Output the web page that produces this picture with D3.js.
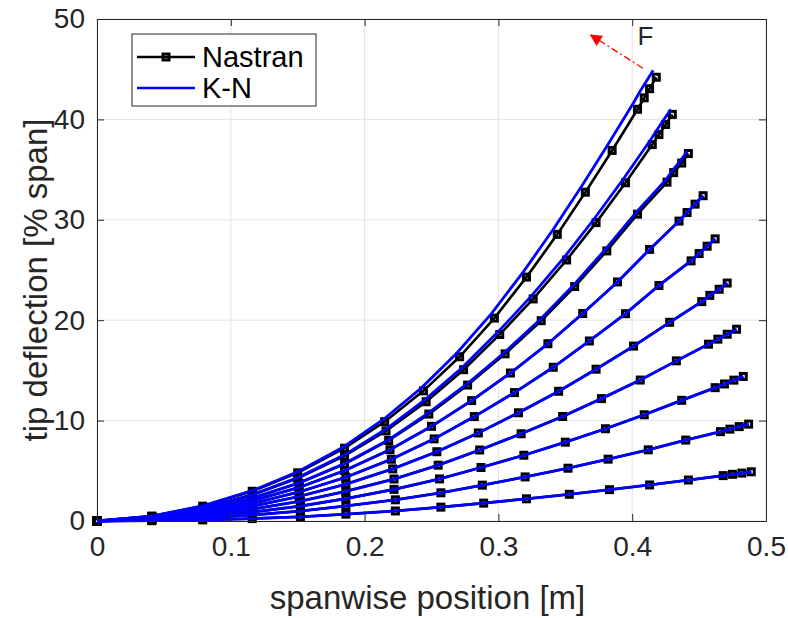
<!DOCTYPE html>
<html>
<head>
<meta charset="utf-8">
<script src="https://cdn.jsdelivr.net/npm/d3@7"></script>
<style>
  body { margin: 0; background: #fff; }
  svg { display: block; font-family: "Liberation Sans", Arial, sans-serif; }
  .grid line { stroke: #e3e3e3; stroke-width: 1; }
  .axis path, .axis line { stroke: #262626; stroke-width: 1; }
  .axis text { fill: #262626; font-size: 28px; }
</style>
</head>
<body>
<svg width="788" height="618"></svg>
<script>
// node x positions [m], one array per load step (smallest load first)
var nasX1 = [0, .041, .079, .116, .152, .186, .223, .257, .289, .321, .353, .383, .413, .442, .468, .475, .482, .489];
var nasX2 = [0, .041, .079, .116, .152, .186, .223, .257, .288, .320, .352, .382, .412, .440, .466, .473, .480, .487];
var nasX3 = [0, .041, .079, .116, .152, .186, .222, .256, .287, .319, .350, .380, .409, .437, .462, .469, .476, .483];
var nasX4 = [0, .041, .079, .116, .152, .186, .222, .255, .286, .317, .348, .377, .406, .433, .457, .464, .471, .478];
var nasX5 = [0, .041, .079, .116, .151, .186, .221, .254, .285, .315, .345, .373, .401, .428, .452, .458, .465, .471];
var nasX6 = [0, .041, .079, .116, .151, .186, .220, .252, .282, .312, .341, .368, .395, .420, .444, .450, .456, .462];
var nasX7 = [0, .041, .079, .116, .151, .185, .219, .250, .280, .309, .337, .363, .389, .413, .435, .441, .447, .453];
var nasX8 = [0, .041, .079, .116, .151, .185, .218, .248, .277, .305, .332, .357, .381, .404, .426, .431, .437, .442];
var nasX9 = [0, .041, .079, .116, .150, .185, .216, .246, .274, .301, .326, .351, .373, .395, .415, .420, .425, .430];
var nasX10 = [0, .041, .079, .116, .150, .185, .215, .244, .271, .297, .321, .344, .365, .385, .404, .409, .413, .418];

// Nastran tip deflection along the span [% span]
var nasY1 = [0, .03, .11, .24, .42, .68, 1.0, 1.38, 1.78, 2.21, 2.66, 3.12, 3.59, 4.08, 4.52, 4.65, 4.77, 4.9];
var nasY2 = [0, .10, .29, .60, .99, 1.50, 2.11, 2.81, 3.57, 4.39, 5.26, 6.16, 7.09, 8.06, 8.90, 9.15, 9.40, 9.65];
var nasY3 = [0, .14, .43, .89, 1.48, 2.23, 3.15, 4.19, 5.33, 6.55, 7.85, 9.19, 10.58, 12.02, 13.28, 13.65, 14.03, 14.4];
var nasY4 = [0, .19, .57, 1.18, 1.97, 2.96, 4.18, 5.56, 7.07, 8.69, 10.41, 12.19, 14.04, 15.95, 17.61, 18.11, 18.60, 19.1];
var nasY5 = [0, .24, .71, 1.47, 2.44, 3.67, 5.19, 6.90, 8.77, 10.78, 12.92, 15.12, 17.42, 19.79, 21.85, 22.47, 23.08, 23.7];
var nasY6 = [0, .28, .84, 1.74, 2.89, 4.36, 6.15, 8.18, 10.40, 12.79, 15.31, 17.93, 20.65, 23.46, 25.91, 26.64, 27.37, 28.1];
var nasY7 = [0, .32, .97, 2.01, 3.34, 5.02, 7.10, 9.43, 11.99, 14.74, 17.66, 20.67, 23.81, 27.05, 29.87, 30.72, 31.56, 32.4];
var nasY8 = [0, .37, 1.10, 2.27, 3.77, 5.67, 8.02, 10.65, 13.54, 16.65, 19.95, 23.35, 26.90, 30.56, 33.75, 34.70, 35.65, 36.6];
var nasY9 = [0, .45, 1.25, 2.58, 4.25, 6.49, 8.97, 11.88, 15.07, 18.58, 22.12, 26.0, 29.72, 33.69, 37.49, 38.49, 39.49, 40.5];
var nasY10 = [0, .49, 1.48, 2.96, 4.80, 7.25, 9.89, 12.96, 16.36, 20.21, 24.29, 28.55, 32.75, 36.91, 41.01, 42.15, 43.06, 44.2];

// K-N: sits on Nastran for the lower loads, drifts up/left for the top three
var knX8 = [0, .041, .079, .116, .151, .185, .218, .2475, .2765, .3045, .3314, .3563, .3802, .4031, .4251, .4301, .4361, .4412];
var knY8 = [0, .37, 1.11, 2.29, 3.80, 5.72, 8.09, 10.74, 13.65, 16.78, 20.10, 23.52, 27.09, 30.77, 33.97, 34.93, 35.89, 36.85];
var knX9 = [0, .041, .079, .116, .150, .185, .2155, .245, .273, .2998, .3247, .3496, .3715, .3935, .4135, .4185, .4235, .429];
var knY9 = [0, .45, 1.27, 2.62, 4.32, 6.59, 9.11, 12.06, 15.29, 18.84, 22.42, 26.33, 30.08, 34.09, 37.92, 38.94, 39.96, 41.0];
var knX10 = [0, .041, .079, .116, .150, .1845, .214, .2425, .269, .2948, .3185, .3413, .3622, .382, .401, .406, .4105, .4157];
var knY10 = [0, .49, 1.51, 3.02, 4.90, 7.40, 10.11, 13.26, 16.74, 20.66, 24.79, 29.10, 33.35, 37.53, 41.66, 42.82, 43.78, 44.9];

var nasX = [nasX1, nasX2, nasX3, nasX4, nasX5, nasX6, nasX7, nasX8, nasX9, nasX10];
var nasY = [nasY1, nasY2, nasY3, nasY4, nasY5, nasY6, nasY7, nasY8, nasY9, nasY10];
var knX = [nasX1, nasX2, nasX3, nasX4, nasX5, nasX6, nasX7, knX8, knX9, knX10];
var knY = [nasY1, nasY2, nasY3, nasY4, nasY5, nasY6, nasY7, knY8, knY9, knY10];

var xTicks = [0, 0.1, 0.2, 0.3, 0.4, 0.5];
var yTicks = [0, 10, 20, 30, 40, 50];

var margin = {top: 19, right: 22, bottom: 97, left: 97};
var width = 788 - margin.left - margin.right;
var height = 618 - margin.top - margin.bottom;

var x = d3.scaleLinear().domain([0, 0.5]).range([0, width]);
var y = d3.scaleLinear().domain([0, 50]).range([height, 0]);

var svg = d3.select("svg")
  .append("g")
    .attr("transform", "translate(" + margin.left + "," + margin.top + ")");

// grid
svg.append("g").attr("class", "grid")
  .selectAll("line").data(xTicks).enter().append("line")
    .attr("x1", function(d) { return x(d); }).attr("x2", function(d) { return x(d); })
    .attr("y1", 0).attr("y2", height);
svg.append("g").attr("class", "grid")
  .selectAll("line").data(yTicks).enter().append("line")
    .attr("y1", function(d) { return y(d); }).attr("y2", function(d) { return y(d); })
    .attr("x1", 0).attr("x2", width);

function toPts(xs, ys) {
  return xs.map(function(v, i) { return [v, ys[i]]; });
}
var line = d3.line()
  .x(function(d) { return x(d[0]); })
  .y(function(d) { return y(d[1]); });

// Nastran: black line with square markers
var nas = svg.append("g");
nasX.forEach(function(xs, k) {
  var pts = toPts(xs, nasY[k]);
  nas.append("path")
    .attr("d", line(pts))
    .attr("fill", "none")
    .attr("stroke", "#000")
    .attr("stroke-width", 2.6);
  nas.selectAll(null).data(pts).enter().append("rect")
    .attr("x", function(d) { return x(d[0]) - 3; })
    .attr("y", function(d) { return y(d[1]) - 3; })
    .attr("width", 6).attr("height", 6)
    .attr("fill", "none")
    .attr("stroke", "#000")
    .attr("stroke-width", 3);
});

// K-N: blue lines on top
var kn = svg.append("g");
knX.forEach(function(xs, k) {
  kn.append("path")
    .attr("d", line(toPts(xs, knY[k])))
    .attr("fill", "none")
    .attr("stroke", "#0000ff")
    .attr("stroke-width", 2.8);
});

// axes (ticks inside, box on)
svg.append("g").attr("class", "axis")
  .attr("transform", "translate(0," + height + ")")
  .call(d3.axisBottom(x).tickValues(xTicks).tickSizeInner(-7).tickSizeOuter(0).tickPadding(15)
    .tickFormat(d3.format("~g")));
svg.append("g").attr("class", "axis")
  .call(d3.axisLeft(y).tickValues(yTicks).tickSizeInner(-7).tickSizeOuter(0).tickPadding(12));
svg.append("g").attr("class", "axis")
  .call(d3.axisTop(x).tickValues(xTicks).tickSizeInner(-7).tickSizeOuter(0).tickFormat(""));
svg.append("g").attr("class", "axis")
  .attr("transform", "translate(" + width + ",0)")
  .call(d3.axisRight(y).tickValues(yTicks).tickSizeInner(-7).tickSizeOuter(0).tickFormat(""));

// axis titles
svg.append("text")
  .attr("x", width / 2 - 4)
  .attr("y", height + 88)
  .attr("text-anchor", "middle")
  .style("font-size", "33px")
  .style("fill", "#262626")
  .text("spanwise position [m]");

svg.append("text")
  .attr("transform", "rotate(-90)")
  .attr("x", -261)
  .attr("y", -50)
  .attr("text-anchor", "middle")
  .style("font-size", "33px")
  .style("fill", "#262626")
  .text("tip deflection [% span]");

// force arrow annotation
svg.append("defs").append("marker")
  .attr("id", "head")
  .attr("viewBox", "0 0 10 10")
  .attr("refX", 9).attr("refY", 5)
  .attr("markerWidth", 14).attr("markerHeight", 12)
  .attr("markerUnits", "userSpaceOnUse")
  .attr("orient", "auto")
  .append("path").attr("d", "M0,0L10,5L0,10z").attr("fill", "#ff0000");

svg.append("line")
  .attr("x1", x(0.408)).attr("y1", y(45.1))
  .attr("x2", x(0.369)).attr("y2", y(48.4))
  .attr("stroke", "#ff0000")
  .attr("stroke-width", 1.3)
  .attr("stroke-dasharray", "7,3,2,3")
  .attr("marker-end", "url(#head)");

svg.append("text")
  .attr("x", x(0.404))
  .attr("y", y(47.4))
  .style("font-size", "26px")
  .style("fill", "#262626")
  .text("F");

// legend
var legend = svg.append("g").attr("transform", "translate(35,15)");
legend.append("rect")
  .attr("width", 184).attr("height", 72)
  .attr("fill", "#fff")
  .attr("stroke", "#262626")
  .attr("stroke-width", 1);

var entries = [{name: "Nastran", color: "#000", marker: true}, {name: "K-N", color: "#0000ff", marker: false}];
entries.forEach(function(e, i) {
  var ly = 23 + i * 31;
  legend.append("line")
    .attr("x1", 5).attr("x2", 63).attr("y1", ly).attr("y2", ly)
    .attr("stroke", e.color).attr("stroke-width", 2.6);
  if (e.marker) {
    legend.append("rect")
      .attr("x", 31).attr("y", ly - 3).attr("width", 6).attr("height", 6)
      .attr("fill", "none").attr("stroke", "#000").attr("stroke-width", 3);
  }
  legend.append("text")
    .attr("x", 70).attr("y", ly + 10)
    .style("font-size", "29px")
    .style("fill", "#000")
    .text(e.name);
});
</script>
</body>
</html>
